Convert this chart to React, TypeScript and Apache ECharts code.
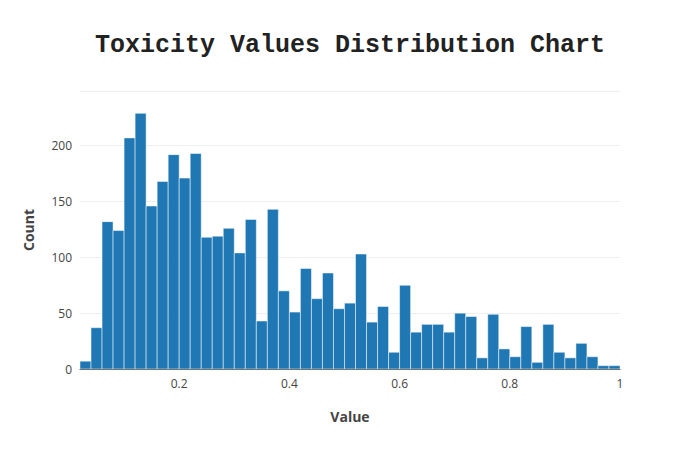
import { useEffect, useRef } from "react";
import * as echarts from "echarts";

const binStart = 0.02;
const binWidth = 0.02;
const counts = [
  7, 37, 132, 124, 207, 229, 146, 168, 192, 171, 193, 118, 119, 126, 104, 134, 43, 143, 70, 51,
  90, 63, 86, 54, 59, 103, 42, 56, 15, 75, 33, 40, 40, 33, 50, 47, 10, 49, 18, 11,
  38, 6, 40, 15, 10, 23, 11, 3, 3,
];
const xTicks = [0.2, 0.4, 0.6, 0.8, 1];

export default function App() {
  const ref = useRef<HTMLDivElement | null>(null);

  useEffect(() => {
    if (!ref.current) return;
    const chart = echarts.init(ref.current, undefined, { renderer: "svg" });
    const data = counts.map((c, i) => [binStart + i * binWidth, binStart + (i + 1) * binWidth, c]);
    chart.setOption({
      animation: false,
      title: {
        text: "Toxicity Values Distribution Chart",
        left: "center",
        top: 20,
        textStyle: { fontFamily: "Liberation Mono", fontSize: 25, fontWeight: "bold", color: "#222" },
      },
      grid: { left: 72, right: 72, top: 83, bottom: 73 },
      xAxis: {
        type: "value",
        min: binStart,
        max: 1,
        name: "Value",
        nameLocation: "middle",
        nameGap: 40,
        nameTextStyle: { fontFamily: "Open Sans", fontSize: 14, fontWeight: "bold", color: "#444" },
        axisLine: { show: true, lineStyle: { color: "#444" } },
        axisTick: { show: false },
        splitLine: { show: false },
        axisLabel: {
          customValues: xTicks,
          fontFamily: "Open Sans",
          fontSize: 12,
          color: "#444",
          formatter: (v: number) => String(+v.toFixed(1)),
        },
      },
      yAxis: {
        type: "value",
        min: 0,
        max: 249,
        interval: 50,
        name: "Count",
        nameLocation: "middle",
        nameGap: 45,
        nameTextStyle: { fontFamily: "Open Sans", fontSize: 14, fontWeight: "bold", color: "#444" },
        axisLine: { show: false },
        axisTick: { show: false },
        splitLine: { lineStyle: { color: "#eee" } },
        axisLabel: { fontFamily: "Open Sans", fontSize: 12, color: "#444", showMaxLabel: false },
      },
      series: [
        {
          type: "custom",
          data,
          encode: { x: [0, 1], y: 2 },
          renderItem: (_params: any, api: any) => {
            const p0 = api.coord([api.value(0), api.value(2)]);
            const p1 = api.coord([api.value(1), 0]);
            return {
              type: "rect",
              shape: { x: p0[0], y: p0[1], width: p1[0] - p0[0], height: p1[1] - p0[1] },
              style: { fill: "#1f77b4", stroke: "#fff", lineWidth: 0.5 },
            };
          },
        },
      ],
    });
    return () => chart.dispose();
  }, []);

  return <div ref={ref} style={{ width: 684, height: 434 }} />;
}
